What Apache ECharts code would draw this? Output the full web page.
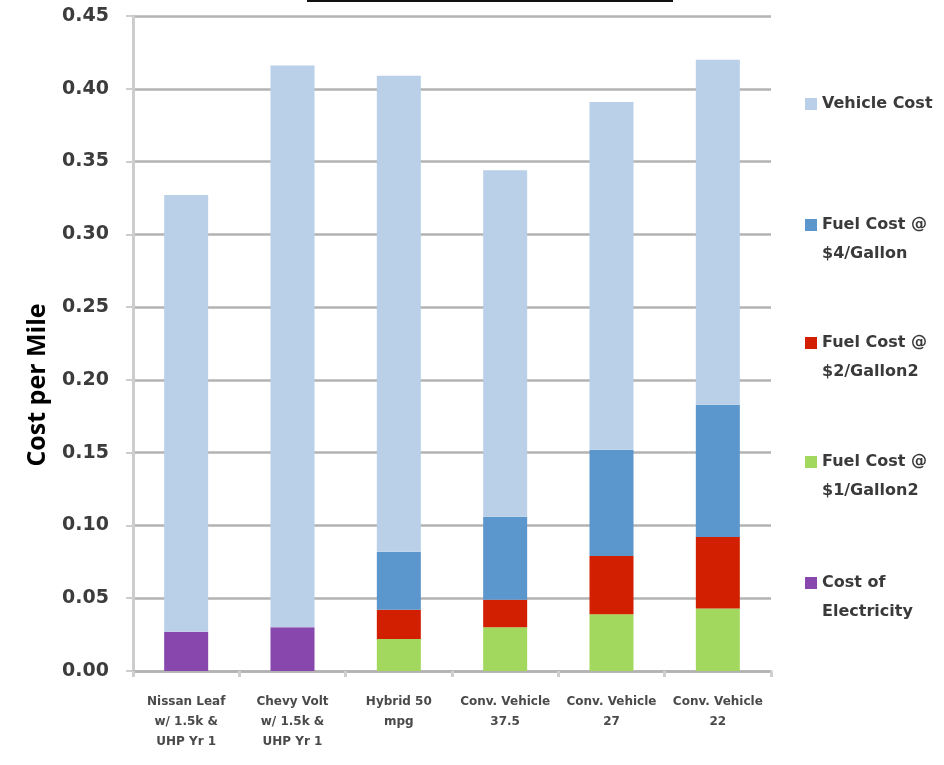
<!DOCTYPE html>
<html>
<head>
<meta charset="utf-8">
<style>
  html, body { margin: 0; padding: 0; background: #fff; }
  #chart { width: 944px; height: 765px; }
</style>
<script src="https://cdn.jsdelivr.net/npm/echarts@6/dist/echarts.min.js"></script>
</head>
<body>
<div id="chart"></div>
<script>
// Vehicles compared
const categories = [
  'Nissan Leaf\nw/ 1.5k &\nUHP Yr 1',
  'Chevy Volt\nw/ 1.5k &\nUHP Yr 1',
  'Hybrid 50\nmpg',
  'Conv. Vehicle\n37.5',
  'Conv. Vehicle\n27',
  'Conv. Vehicle\n22'
];

// Stacked segment heights, cost per mile ($)
const electricity = [0.027, 0.030, null, null, null, null];
const fuelLow     = [null, null, 0.022, 0.030, 0.039, 0.043];
const fuelMid     = [null, null, 0.020, 0.019, 0.040, 0.049];
const fuelHigh    = [null, null, 0.040, 0.057, 0.073, 0.091];
const vehicle     = [0.300, 0.386, 0.327, 0.238, 0.239, 0.237];

const seriesNames = {
  vehicle: 'Vehicle Cost',
  high: 'Fuel Cost @\n$4/Gallon',
  mid: 'Fuel Cost @\n$2/Gallon2',
  low: 'Fuel Cost @\n$1/Gallon2',
  elec: 'Cost of\nElectricity'
};

const colors = {
  vehicle: '#b9d0e8',
  high: '#5b96cc',
  mid: '#d21f02',
  low: '#a2d85e',
  elec: '#8747ad'
};

const yTicks = { min: 0, max: 0.45, step: 0.05 };

const chart = echarts.init(document.getElementById('chart'), null, { renderer: 'canvas' });

function bar(name, data, color) {
  return {
    name: name,
    type: 'bar',
    stack: 'total',
    data: data,
    barWidth: 44,
    itemStyle: { color: color },
    emphasis: { disabled: true }
  };
}

const LEGEND_LINE = 29;

// One legend block per series so each swatch lines up with the first text line.
function legendAt(key, iconCenter) {
  const lines = seriesNames[key].split('\n').length;
  // a blank leading line keeps the first text line level with the swatch
  const shownLines = lines > 1 ? lines + 1 : 1;
  return {
    data: [seriesNames[key]],
    left: 805,
    top: iconCenter - (shownLines * LEGEND_LINE) / 2,
    orient: 'vertical',
    itemWidth: 12,
    itemHeight: 12,
    itemGap: 0,
    padding: 0,
    selectedMode: false,
    icon: 'rect',
    formatter: n => (n.indexOf('\n') >= 0 ? ' \n' + n : n),
    textStyle: {
      fontFamily: 'DejaVu Sans',
      fontWeight: 'bold',
      fontSize: 16,
      color: '#3a3a3a',
      lineHeight: LEGEND_LINE
    }
  };
}

chart.setOption({
  animation: false,
  backgroundColor: '#ffffff',
  color: [colors.elec, colors.low, colors.mid, colors.high, colors.vehicle],
  grid: { left: 133, right: 173, top: 16, bottom: 94, containLabel: false },
  legend: [
    legendAt('vehicle', 104),
    legendAt('high', 225),
    legendAt('mid', 343),
    legendAt('low', 462),
    legendAt('elec', 583)
  ],
  xAxis: {
    type: 'category',
    data: categories,
    axisLine: { show: true, lineStyle: { color: '#b3b3b3', width: 2.5 } },
    axisTick: { show: true, length: 6, lineStyle: { color: '#cfcfcf', width: 3 } },
    axisLabel: {
      interval: 0,
      margin: 21,
      fontFamily: 'DejaVu Sans',
      fontWeight: 'bold',
      fontSize: 12,
      lineHeight: 20,
      color: '#4a4a4a'
    },
    splitLine: { show: false }
  },
  yAxis: {
    type: 'value',
    min: yTicks.min,
    max: yTicks.max,
    interval: yTicks.step,
    axisLine: { show: true, lineStyle: { color: '#cdcdcd', width: 3 } },
    axisTick: { show: true, length: 7, lineStyle: { color: '#cdcdcd', width: 2 } },
    axisLabel: {
      margin: 24,
      fontFamily: 'DejaVu Sans',
      fontWeight: 'bold',
      fontSize: 19,
      color: '#3c3c3c',
      formatter: v => v.toFixed(2)
    },
    splitLine: { show: true, lineStyle: { color: '#b3b3b3', width: 2.5 } }
  },
  graphic: [
    {
      type: 'text',
      x: 38,
      y: 385,
      rotation: Math.PI / 2,
      style: {
        text: 'Cost per Mile',
        fontFamily: 'Open Sans',
        fontWeight: 'bold',
        fontSize: 25,
        fill: '#000',
        align: 'center',
        verticalAlign: 'middle'
      }
    },
    {
      type: 'rect',
      shape: { x: 307, y: 0, width: 366, height: 2 },
      style: { fill: '#111' }
    }
  ],
  series: [
    bar(seriesNames.elec, electricity, colors.elec),
    bar(seriesNames.low, fuelLow, colors.low),
    bar(seriesNames.mid, fuelMid, colors.mid),
    bar(seriesNames.high, fuelHigh, colors.high),
    bar(seriesNames.vehicle, vehicle, colors.vehicle)
  ]
});
</script>
</body>
</html>
